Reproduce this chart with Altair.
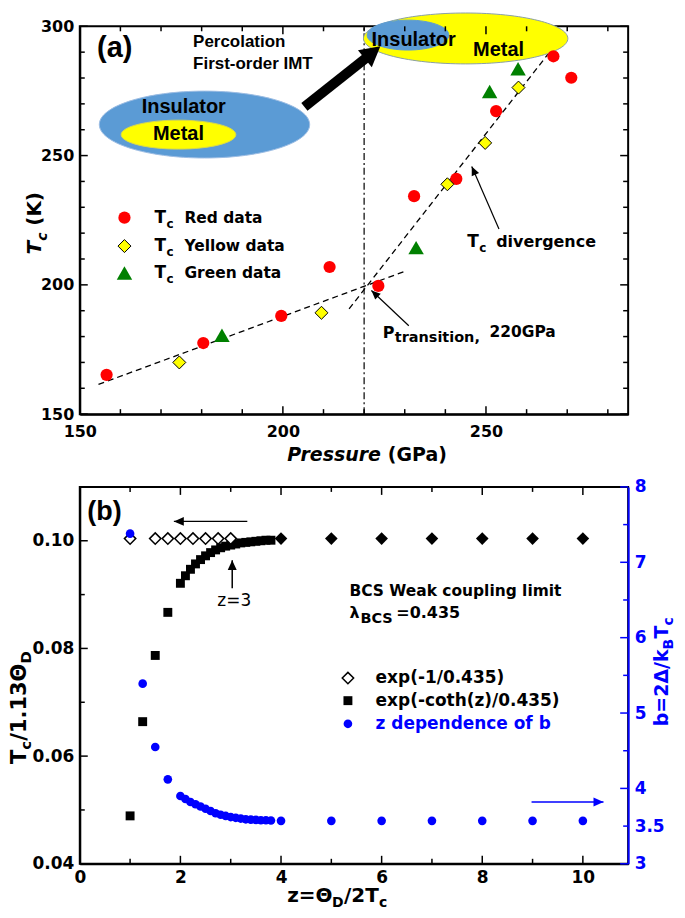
import altair as alt
import pandas as pd

# ---------------- Panel (a): Tc versus pressure ----------------
red_pressure = [156.6, 180.4, 199.6, 211.5, 223.5, 232.3, 242.7, 252.5, 266.6, 271.0]
red_tc = [165.2, 177.5, 188.0, 206.9, 199.6, 234.3, 241.0, 267.2, 288.4, 280.1]
yellow_pressure = [174.5, 209.5, 240.5, 249.8, 258.0]
yellow_tc = [170.0, 189.2, 238.9, 254.9, 276.3]
green_pressure = [185.0, 232.8, 250.9, 257.9]
green_tc = [180.5, 214.4, 274.8, 283.6]
fit_low_pressure = [154.6, 230.3]
fit_low_tc = [161.5, 205.4]
fit_high_pressure = [216.3, 267.0]
fit_high_tc = [190.7, 292.7]
transition_pressure = [220, 220]
transition_tc = [150, 300]
a_legend_labels = ["Red data", "Yellow data", "Green data"]
a_x_labels = [150, 200, 250]
a_x_minor = [160, 170, 180, 190, 210, 220, 230, 240, 260, 270, 280]
a_y_labels = [150, 200, 250, 300]
a_y_minor = [160, 170, 180, 190, 210, 220, 230, 240, 260, 270, 280, 290]

# ---------------- Panel (b): BCS weak coupling ----------------
z_open = [1.0, 1.5, 1.75, 2.0, 2.25, 2.5, 2.75, 3.0]
open_ratio = [0.1004, 0.1004, 0.1004, 0.1004, 0.1004, 0.1004, 0.1004, 0.1004]
z_filled = [4, 5, 6, 7, 8, 9, 10]
filled_ratio = [0.1004, 0.1004, 0.1004, 0.1004, 0.1004, 0.1004, 0.1004]
z_square = [1.0, 1.25, 1.5, 1.75, 2.0, 2.1, 2.2, 2.3, 2.4, 2.5, 2.6, 2.7, 2.8, 2.9,
            3.0, 3.1, 3.2, 3.3, 3.4, 3.5, 3.6, 3.7, 3.8]
square_ratio = [0.0489, 0.0664, 0.0787, 0.0867, 0.0921, 0.0935, 0.0947, 0.0957, 0.0965,
                0.0972, 0.0978, 0.0983, 0.0987, 0.0990, 0.0992, 0.0994, 0.0996, 0.0997,
                0.0998, 0.0999, 0.1000, 0.1001, 0.1001]
z_blue = [1.0, 1.25, 1.5, 1.75, 2.0, 2.1, 2.2, 2.3, 2.4, 2.5, 2.6, 2.7, 2.8, 2.9,
          3.0, 3.1, 3.2, 3.3, 3.4, 3.5, 3.6, 3.7, 3.8, 4, 5, 6, 7, 8, 9, 10]
b_blue = [7.38, 5.39, 4.55, 4.12, 3.90, 3.86, 3.82, 3.79, 3.76, 3.73, 3.70, 3.67, 3.65,
          3.635, 3.62, 3.61, 3.60, 3.59, 3.586, 3.582, 3.578, 3.577, 3.575,
          3.57, 3.57, 3.57, 3.57, 3.57, 3.57, 3.57]
b_legend_labels = ["exp(-1/0.435)", "exp(-coth(z)/0.435)", "z dependence of b"]
b_x_labels = [0, 2, 4, 6, 8, 10]
b_x_minor = [1, 3, 5, 7, 9]
b_left_labels = [0.04, 0.06, 0.08, 0.10]
b_left_minor = [0.05, 0.07, 0.09]
b_right_labels = [3, 3.5, 4, 5, 6, 7, 8]
b_right_major = [3, 4, 5, 6, 7, 8]
b_right_minor = [3.5, 4.5, 5.5, 6.5, 7.5]

# ---------------- styling ----------------
FONT = "DejaVu Sans"
ARIAL = "Liberation Sans"
BLUE = "#0000FF"
W = 550
HA = 389
HB = 378

sx_a = alt.Scale(domain=[150, 285], nice=False, zero=False)
sy_a = alt.Scale(domain=[150, 300], nice=False, zero=False)
sx_b = alt.Scale(domain=[0, 10.9], nice=False, zero=False)
syl_b = alt.Scale(domain=[0.04, 0.11], nice=False, zero=False)
syr_b = alt.Scale(domain=[3, 8], nice=False, zero=False)


def axis(values, fmt, pad, size=16, color="black", orient=None):
    kw = dict(values=values, format=fmt, ticks=False, grid=False, title=None,
              labelFont=FONT, labelFontSize=size, labelFontWeight="bold",
              labelColor=color, labelPadding=pad, domainColor=color, domainWidth=2,
              labelFlush=False, labelOverlap=False)
    if orient:
        kw["orient"] = orient
    return alt.Axis(**kw)


AX = {
    "a": (axis(a_x_labels, "d", 9), axis(a_y_labels, "d", 6)),
    "bl": (axis(b_x_labels, "d", 6, size=17), axis(b_left_labels, ".2f", 6, size=17)),
    "br": (axis(b_x_labels, "d", 6, size=17),
           axis(b_right_labels, ".1~f", 6, size=17, color=BLUE, orient="right")),
}
SC = {"a": (sx_a, sy_a), "bl": (sx_b, syl_b), "br": (sx_b, syr_b)}


def base(xs, ys, p):
    sx, sy = SC[p]
    ax, ay = AX[p]
    df = pd.DataFrame({"x": xs, "y": ys})
    return alt.Chart(df).encode(
        x=alt.X("x:Q", scale=sx, axis=ax),
        y=alt.Y("y:Q", scale=sy, axis=ay),
    )


def txt(s, x, y, p, **kw):
    style = dict(align="left", baseline="middle", font=FONT, fontSize=16,
                 fontWeight="bold", color="black")
    style.update(kw)
    return base([x], [y], p).mark_text(text=s, **style)


def ptxt(s, px, py, **kw):
    style = dict(align="left", baseline="alphabetic", font=FONT, fontSize=19,
                 fontWeight="bold", color="black")
    style.update(kw)
    return alt.Chart(pd.DataFrame({"a": [0]})).mark_text(text=s, **style).encode(
        x=alt.value(px), y=alt.value(py))


def arrow(tail, shaft_end, tip, angle, p, color="black", width=1.2, head=10, hw=0.45):
    line = base([tail[0], shaft_end[0]], [tail[1], shaft_end[1]], p).mark_line(
        color=color, strokeWidth=width, strokeCap="butt")
    hd = base([tip[0]], [tip[1]], p).mark_point(
        shape=f"M0,0 L{hw},1 L-{hw},1 Z",
        size=(2 * head) ** 2, angle=angle, filled=True, color=color,
        opacity=1, strokeWidth=0)
    return [line, hd]


def ellipse(x, y, wpx, ratio, fill, stroke, p):
    path = f"M-1,0 A1,{ratio} 0 1,1 1,0 A1,{ratio} 0 1,1 -1,0 Z"
    return base([x], [y], p).mark_point(
        shape=path, size=wpx * wpx, filled=True, fill=fill, stroke=stroke,
        strokeWidth=1, opacity=1, fillOpacity=1)


def xticks(vals, p, H, length, top=True, color="black"):
    sx, _ = SC[p]
    ax, _ = AX[p]
    df = pd.DataFrame({"v": vals})
    c = alt.Chart(df).mark_rule(color=color, strokeWidth=1.5)
    out = [c.encode(x=alt.X("v:Q", scale=sx, axis=ax), y=alt.value(H), y2=alt.value(H - length))]
    if top:
        out.append(c.encode(x=alt.X("v:Q", scale=sx, axis=ax), y=alt.value(0), y2=alt.value(length)))
    return out


def yticks(vals, p, Wd, length, left=True, right=True, color="black"):
    _, sy = SC[p]
    _, ay = AX[p]
    df = pd.DataFrame({"v": vals})
    c = alt.Chart(df).mark_rule(color=color, strokeWidth=1.5)
    out = []
    if left:
        out.append(c.encode(y=alt.Y("v:Q", scale=sy, axis=ay), x=alt.value(0), x2=alt.value(length)))
    if right:
        out.append(c.encode(y=alt.Y("v:Q", scale=sy, axis=ay), x=alt.value(Wd), x2=alt.value(Wd - length)))
    return out


# ================= Panel (a) =================
A = []
A.append(base(transition_pressure, transition_tc, "a").mark_line(
    color="black", strokeWidth=1.2, strokeDash=[7, 3, 2, 3]))
A.append(base(fit_low_pressure, fit_low_tc, "a").mark_line(
    color="black", strokeWidth=1.3, strokeDash=[6, 4]))
A.append(base(fit_high_pressure, fit_high_tc, "a").mark_line(
    color="black", strokeWidth=1.3, strokeDash=[6, 4]))

# cartoon ellipses
A.append(ellipse(180.7, 262.0, 211, 0.318, "#5B9BD5", "#9DBDE3", "a"))
A.append(ellipse(174.3, 258.1, 115, 0.252, "#FFFF00", "#D9D94A", "a"))
A.append(ellipse(245.0, 295.3, 205, 0.249, "#FFFF00", "#8AA0A8", "a"))
A.append(ellipse(230.8, 296.6, 82, 0.366, "#5B9BD5", "#5B9BD5", "a"))
A.append(txt("Insulator", 175.6, 268.8, "a", align="center", font=ARIAL, fontSize=20))
A.append(txt("Metal", 174.3, 258.2, "a", align="center", font=ARIAL, fontSize=20))
A.append(txt("Insulator", 232.2, 294.8, "a", align="center", font=ARIAL, fontSize=20))
A.append(txt("Metal", 253.1, 291.0, "a", align="center", font=ARIAL, fontSize=20))
A.append(txt("Percolation", 177.9, 294.1, "a", font=ARIAL, fontSize=17))
A.append(txt("First-order IMT", 177.9, 285.4, "a", font=ARIAL, fontSize=17))
A.append(txt("(a)", 158.6, 291.5, "a", align="center", font=ARIAL, fontSize=29))
A += arrow((205.3, 268.8), (220.6, 287.9), (224.0, 292.3), 51, "a", width=10, head=20, hw=0.55)

# annotations
A += arrow((253.2, 221.6), (246.5, 245.8), (246.5, 245.8), 336, "a", width=1.2, head=9)
A.append(txt("T", 245.4, 216.7, "a", fontSize=17))
A.append(txt("c", 245.4, 216.7, "a", fontSize=12, dx=12, dy=6))
A.append(txt("divergence", 245.4, 216.7, "a", fontSize=16, dx=29))
A += arrow((231.0, 184.2), (221.8, 197.8), (221.8, 197.8), 313, "a", width=1.2, head=9)
A.append(txt("P", 224.6, 181.5, "a", fontSize=16))
A.append(txt("transition,", 224.6, 181.5, "a", fontSize=14.5, dx=12, dy=5))
A.append(txt("220GPa", 224.6, 181.5, "a", fontSize=15.5, dx=107, dy=-1))

# legend (a)
A.append(base([161.0], [226.0], "a").mark_point(
    shape="circle", size=150, filled=True, color="#FF0000", opacity=1))
A.append(base([161.0], [215.0], "a").mark_point(
    shape="diamond", size=170, filled=True, fill="#FFFF00", stroke="black", strokeWidth=1, opacity=1))
A.append(base([161.0], [204.6], "a").mark_point(
    shape="triangle-up", size=240, filled=True, color="#008000", opacity=1))
for lab, yy in zip(a_legend_labels, [226.0, 215.0, 204.6]):
    A.append(txt("T", 168.4, yy, "a", fontSize=17))
    A.append(txt("c", 168.4, yy, "a", fontSize=12, dx=12, dy=6))
    A.append(txt(lab, 168.4, yy, "a", fontSize=15.5, dx=30))

# data
A.append(base(red_pressure, red_tc, "a").mark_point(
    shape="circle", size=150, filled=True, color="#FF0000", opacity=1))
A.append(base(yellow_pressure, yellow_tc, "a").mark_point(
    shape="diamond", size=170, filled=True, fill="#FFFF00", stroke="black", strokeWidth=1, opacity=1))
A.append(base(green_pressure, green_tc, "a").mark_point(
    shape="triangle-up", size=240, filled=True, color="#008000", opacity=1))

# inward ticks
A += xticks(a_x_labels, "a", HA, 8)
A += xticks(a_x_minor, "a", HA, 5)
A += yticks(a_y_labels, "a", W, 8)
A += yticks(a_y_minor, "a", W, 5)

# axis titles
A.append(ptxt("Pressure", 208, HA + 47, fontStyle="italic"))
A.append(ptxt("(GPa)", 309, HA + 47))
A.append(ptxt("T", -39, 229, angle=270, fontStyle="italic", fontSize=20))
A.append(ptxt("c", -39, 229, angle=270, fontStyle="italic", fontSize=14, dx=14, dy=6))
A.append(ptxt("(K)", -39, 229, angle=270, fontSize=20, dx=29))

chartA = alt.layer(*A).properties(width=W, height=HA)

# ================= Panel (b) =================
L = []
L.append(base(z_square, square_ratio, "bl").mark_point(
    shape="square", size=80, filled=True, color="black", opacity=1))
L.append(base(z_open, open_ratio, "bl").mark_point(
    shape="diamond", size=130, filled=True, fill="white", stroke="black", strokeWidth=1.5, opacity=1))
L.append(base(z_filled, filled_ratio, "bl").mark_point(
    shape="diamond", size=160, filled=True, color="black", opacity=1))

L.append(txt("(b)", 0.49, 0.1054, "bl", align="center", font=ARIAL, fontSize=27))
L += arrow((3.33, 0.1036), (1.87, 0.1036), (1.87, 0.1036), 270, "bl", width=1.5, head=10)
L += arrow((3.03, 0.0912), (3.03, 0.0964), (3.03, 0.0964), 0, "bl", width=1.5, head=10)
L.append(txt("z=3", 3.07, 0.0888, "bl", align="center", fontWeight="normal", fontSize=17))
L.append(txt("BCS Weak coupling limit", 5.36, 0.0907, "bl", fontSize=15.5))
L.append(txt("λ", 5.36, 0.0865, "bl", fontSize=16))
L.append(txt("BCS", 5.36, 0.0865, "bl", fontSize=14.5, dx=11, dy=6))
L.append(txt("=0.435", 5.36, 0.0865, "bl", fontSize=16, dx=47))

# legend (b)
L.append(base([5.33], [0.0745], "bl").mark_point(
    shape="diamond", size=130, filled=True, fill="white", stroke="black", strokeWidth=1.5, opacity=1))
L.append(base([5.33], [0.0703], "bl").mark_point(
    shape="square", size=80, filled=True, color="black", opacity=1))
L.append(base([5.33], [0.0660], "bl").mark_point(
    shape="circle", size=75, filled=True, color=BLUE, opacity=1))
for lab, yy, col in zip(b_legend_labels, [0.0745, 0.0703, 0.0660], ["black", "black", BLUE]):
    L.append(txt(lab, 5.88, yy, "bl", fontSize=17, color=col))

L += xticks(b_x_labels, "bl", HB, 8)
L += xticks(b_x_minor, "bl", HB, 5)
L += yticks(b_left_labels, "bl", W, 8, right=False)
L += yticks(b_left_minor, "bl", W, 5, right=False)

# axis titles
L.append(ptxt("z=Θ", 208, HB + 38, fontSize=20))
L.append(ptxt("D", 208, HB + 38, fontSize=14, dx=45, dy=5))
L.append(ptxt("/2T", 208, HB + 38, fontSize=20, dx=57))
L.append(ptxt("c", 208, HB + 38, fontSize=14, dx=92, dy=5))
L.append(ptxt("T", -54, 278, angle=270, fontSize=21))
L.append(ptxt("c", -54, 278, angle=270, fontSize=15, dx=14.5, dy=5))
L.append(ptxt("/1.13Θ", -54, 278, angle=270, fontSize=21, dx=23.5))
L.append(ptxt("D", -54, 278, angle=270, fontSize=15, dx=101, dy=5))
L.append(ptxt("b=2Δ/k", 590, 240, angle=270, fontSize=19, color=BLUE))
L.append(ptxt("B", 590, 240, angle=270, fontSize=14, dx=77, dy=5, color=BLUE))
L.append(ptxt("T", 590, 240, angle=270, fontSize=19, dx=88, color=BLUE))
L.append(ptxt("c", 590, 240, angle=270, fontSize=14, dx=101, dy=5, color=BLUE))

R = []
R.append(base(z_blue, b_blue, "br").mark_point(
    shape="circle", size=75, filled=True, color=BLUE, opacity=1))
R += arrow((8.98, 3.82), (10.41, 3.82), (10.41, 3.82), 90, "br", color=BLUE, width=1.5, head=10)
R += yticks(b_right_major, "br", W, 8, left=False, color=BLUE)
R += yticks(b_right_minor, "br", W, 5, left=False, color=BLUE)

chartB = alt.layer(alt.layer(*L), alt.layer(*R)).resolve_scale(y="independent").properties(
    width=W, height=HB)

chart = alt.vconcat(chartA, chartB, spacing=11).properties(
    background="white", padding=0).configure_view(stroke="black", strokeWidth=2)

chart.save("out.html", embed_options={"renderer": "svg", "actions": False})
